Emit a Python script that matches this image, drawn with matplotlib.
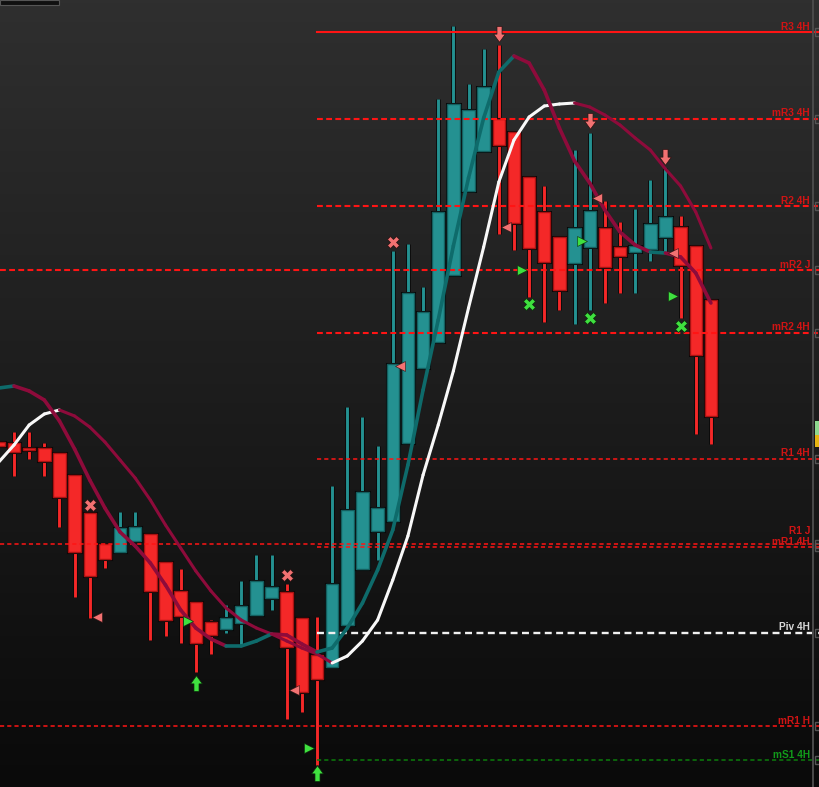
import numpy as np
import matplotlib
matplotlib.use("Agg")
import matplotlib.pyplot as plt
from matplotlib.collections import LineCollection
from matplotlib.patches import Rectangle
from matplotlib.path import Path
from matplotlib.colors import LinearSegmentedColormap
import matplotlib.patheffects as pe

plt.rcParams['lines.scale_dashes'] = False
plt.rcParams['font.family'] = ['Liberation Sans', 'DejaVu Sans']

# ---------------- data (price scale: chart rows, higher price = smaller value) -------------
candle_index = list(range(-1, 47))
opens  = [442, 443, 448, 448, 453, 475, 513, 544, 552, 541, 534, 562, 591, 602, 622, 629,
          623, 615, 598, 592, 618, 655, 667, 625, 569, 531, 521, 443, 368, 342, 275, 191,
          151, 119, 132, 177, 212, 237, 263, 247, 228, 247, 252, 249, 237, 227, 246, 300]
highs  = [428, 432, 432, 443, 453, 475, 513, 544, 512, 512, 534, 562, 569, 602, 620, 605,
          581, 555, 555, 584, 618, 617, 486, 407, 417, 446, 251, 244, 287, 99, 26, 84,
          49, 45, 132, 177, 186, 237, 150, 133, 201, 222, 209, 180, 168, 216, 246, 300]
lows   = [458, 476, 459, 476, 527, 597, 618, 568, 552, 541, 640, 636, 643, 672, 654, 633,
          646, 615, 610, 719, 712, 765, 667, 625, 569, 560, 521, 443, 368, 342, 275, 191,
          151, 234, 250, 297, 322, 310, 324, 310, 303, 293, 293, 261, 252, 318, 434, 444]
closes = [446, 452, 450, 461, 497, 552, 576, 559, 528, 527, 591, 620, 616, 643, 635, 618,
          606, 581, 587, 647, 692, 679, 584, 510, 492, 508, 364, 293, 312, 212, 104, 110,
          87, 145, 223, 248, 262, 290, 228, 211, 267, 256, 246, 224, 217, 265, 355, 416]

fast_ma = [388, 386, 391, 400, 421, 449, 480, 508, 532, 546, 563, 585, 610, 628, 639, 646,
           646, 641, 634, 635, 644, 652, 648, 628, 603, 570, 530, 465, 390, 320, 246, 178,
           118, 72, 56, 63, 90, 128, 161, 183, 210, 232, 245, 252, 253, 257, 273, 303]
slow_ma = [462, 445, 425, 414, 410, 416, 427, 442, 460, 478, 500, 525, 548, 571, 591, 608,
           620, 628, 634, 641, 648, 654, 663, 656, 641, 620, 580, 536, 475, 425, 371, 308,
           247, 182, 140, 117, 106, 104, 103, 107, 115, 125, 138, 150, 169, 186, 212, 248]
# trend state of each segment between consecutive points (U = up colour, D = down colour)
fast_trend = "UDDDDDDDDDDDDDDUUUDDDUUUUUUUUUUUUUDDDDDDDDDUDDD"
slow_trend = "UUUUDDDDDDDDDDDDDDDDDDUUUUUUUUUUUUUUUUDDDDDDDDD"

level_names  = ["R3 4H", "mR3 4H", "R2 4H", "mR2 J", "mR2 4H", "R1 4H", "R1 J", "mR1 4H",
                "Piv 4H", "mR1 H", "mS1 4H"]
level_values = [32, 119, 206, 270, 333, 459, 544, 547, 633, 726, 760]
level_start  = [20, 20, 20, None, 20, 20, None, 20, 20, None, 20]

sell_x_idx = [5, 18, 25];            sell_x_val = [505, 575, 242]
buy_x_idx  = [34, 38, 44];           buy_x_val  = [304, 318, 326]
down_arrow_idx = [32, 38, 43];       down_arrow_val = [35, 122, 158]
up_arrow_idx   = [12, 20];           up_arrow_val   = [682, 772]
left_tri_pos = [5.5, 18.5, 25.5, 32.5, 38.5, 43.5]; left_tri_val = [617, 690, 366, 227, 198, 253]
right_tri_pos = [11.5, 19.5, 33.5, 37.5, 43.5];     right_tri_val = [621, 748, 270, 241, 296]

# ---------------- figure ----------------
XL, XR = -0.924, 53.2
fig = plt.figure(figsize=(8.2, 7.87), dpi=100)
ax = fig.add_axes([0, 0, 1, 1])
cmap = LinearSegmentedColormap.from_list('bg', ['#2f2f2f', '#0a0a0a'])
ax.imshow(np.linspace(0, 1, 256).reshape(-1, 1), cmap=cmap, extent=[XL, XR, 787, 0],
          aspect='auto', zorder=0, origin='upper')
ax.set_xlim(XL, XR)
ax.set_ylim(787, 0)
ax.axis('off')

# candles
up_face, up_edge = '#249191', '#145f5f'
dn_face, dn_edge = '#f42828', '#a81212'
bw = 0.82
for i, o, h, l, c in zip(candle_index, opens, highs, lows, closes):
    bull = c < o
    face = up_face if bull else dn_face
    edge = up_edge if bull else dn_edge
    ax.plot([i, i], [h, l], color=face, lw=2.1, solid_capstyle='butt', zorder=2,
            path_effects=[pe.Stroke(linewidth=3.3, foreground='#080808'), pe.Normal()])
    top = min(o, c)
    height = max(abs(o - c), 1.5)
    r = Rectangle((i - bw / 2, top), bw, height, facecolor=face, edgecolor=edge, lw=1.0, zorder=2.5)
    r.set_path_effects([pe.Stroke(linewidth=2.2, foreground='#080808'), pe.Normal()])
    ax.add_patch(r)

# level lines
red_line = '#ff1414'
red_text = '#d01414'
styles = {
    'solid': dict(lw=1.5, ls='-'),
    'thick': dict(lw=1.5, dashes=(4.2, 2.4)),
    'thin':  dict(lw=1.1, dashes=(3.0, 2.2)),
    'piv':   dict(lw=1.7, dashes=(5.0, 3.2)),
}
kinds = ['solid', 'thick', 'thick', 'thick', 'thick', 'thin', 'thin', 'thin', 'piv', 'thin', 'thin']
lcolors = [red_line] * 8 + ['#f0f0f0', red_line, '#0b7d0b']
tcolors = [red_text] * 8 + ['#d8d8d8', red_text, '#119a1a']
label_dy = [2.5, 2.5, 2.5, 2.5, 2.5, 2.5, 9.5, 2.0, 2.5, 2.5, 2.5]
label_x = 52.54
for name, v, s, k, lc_, tc, dy in zip(level_names, level_values, level_start, kinds,
                                       lcolors, tcolors, label_dy):
    x0 = XL if s is None else s
    ax.plot([x0, XR], [v, v], color=lc_, zorder=3, **styles[k])
    ax.text(label_x, v - dy, name, color=tc, fontsize=7.3, fontweight='bold',
            ha='right', va='baseline', zorder=6)

# moving averages
def draw_ma(values, trend, cmap_, lw):
    pts = np.column_stack([np.array(candle_index, float), np.array(values, float)])
    segs = np.stack([pts[:-1], pts[1:]], axis=1)
    cols = [cmap_[t] for t in trend]
    coll = LineCollection(segs, colors=cols, linewidths=lw, capstyle='round',
                          joinstyle='round', zorder=4)
    ax.add_collection(coll)

maroon = '#8e0b3b'
draw_ma(slow_ma, slow_trend, {'U': '#f8f8f8', 'D': maroon}, 2.2)
draw_ma(fast_ma, fast_trend, {'U': '#0e6b6b', 'D': maroon}, 2.6)

# signal markers
pink = '#f27272'
green = '#3fe03f'
ax.plot(sell_x_idx, sell_x_val, ls='none', marker='X', ms=9, color=pink, mec='#2a1010', mew=0.5, zorder=5)
ax.plot(buy_x_idx, buy_x_val, ls='none', marker='X', ms=9, color=green, mec='#0a2a0a', mew=0.5, zorder=5)

down_verts = [(-0.28, 1.0), (0.28, 1.0), (0.28, 0.15), (0.65, 0.15), (0.0, -0.75),
              (-0.65, 0.15), (-0.28, 0.15), (-0.28, 1.0)]
down_path = Path(down_verts, [Path.MOVETO] + [Path.LINETO] * 6 + [Path.CLOSEPOLY])
up_path = Path([(x, -y) for x, y in down_verts], down_path.codes)
ax.plot(down_arrow_idx, down_arrow_val, ls='none', marker=down_path, ms=13, color=pink,
        mec='#2a1010', mew=0.5, zorder=5)
ax.plot(up_arrow_idx, up_arrow_val, ls='none', marker=up_path, ms=13, color=green,
        mec='#0a2a0a', mew=0.5, zorder=5)
ax.plot(left_tri_pos, left_tri_val, ls='none', marker='<', ms=6.5, color=pink, mec='#2a1010', mew=0.4, zorder=5)
ax.plot(right_tri_pos, right_tri_val, ls='none', marker='>', ms=6.5, color=green, mec='#0a2a0a', mew=0.4, zorder=5)

# right price-scale edge
ax.axvline(52.74, color='#4a4a4a', lw=1.4, zorder=6)
ax.plot([53.15] * len(level_values), level_values, ls='none', marker='s', ms=6,
        mfc='none', mec='#555555', mew=1.0, zorder=6)
ax.add_patch(Rectangle((52.87, 421), 0.5, 14, facecolor='#8fd88f', edgecolor='none', zorder=7))
ax.add_patch(Rectangle((52.87, 435), 0.5, 12, facecolor='#e6b412', edgecolor='none', zorder=7))
# top-left toolbar stub
ax.add_patch(Rectangle((XL, 0), 3.9, 5, facecolor='#101010', edgecolor='#555555', lw=0.8, zorder=7))

fig.savefig('out.png', dpi=100, facecolor='#1a1a1a')
